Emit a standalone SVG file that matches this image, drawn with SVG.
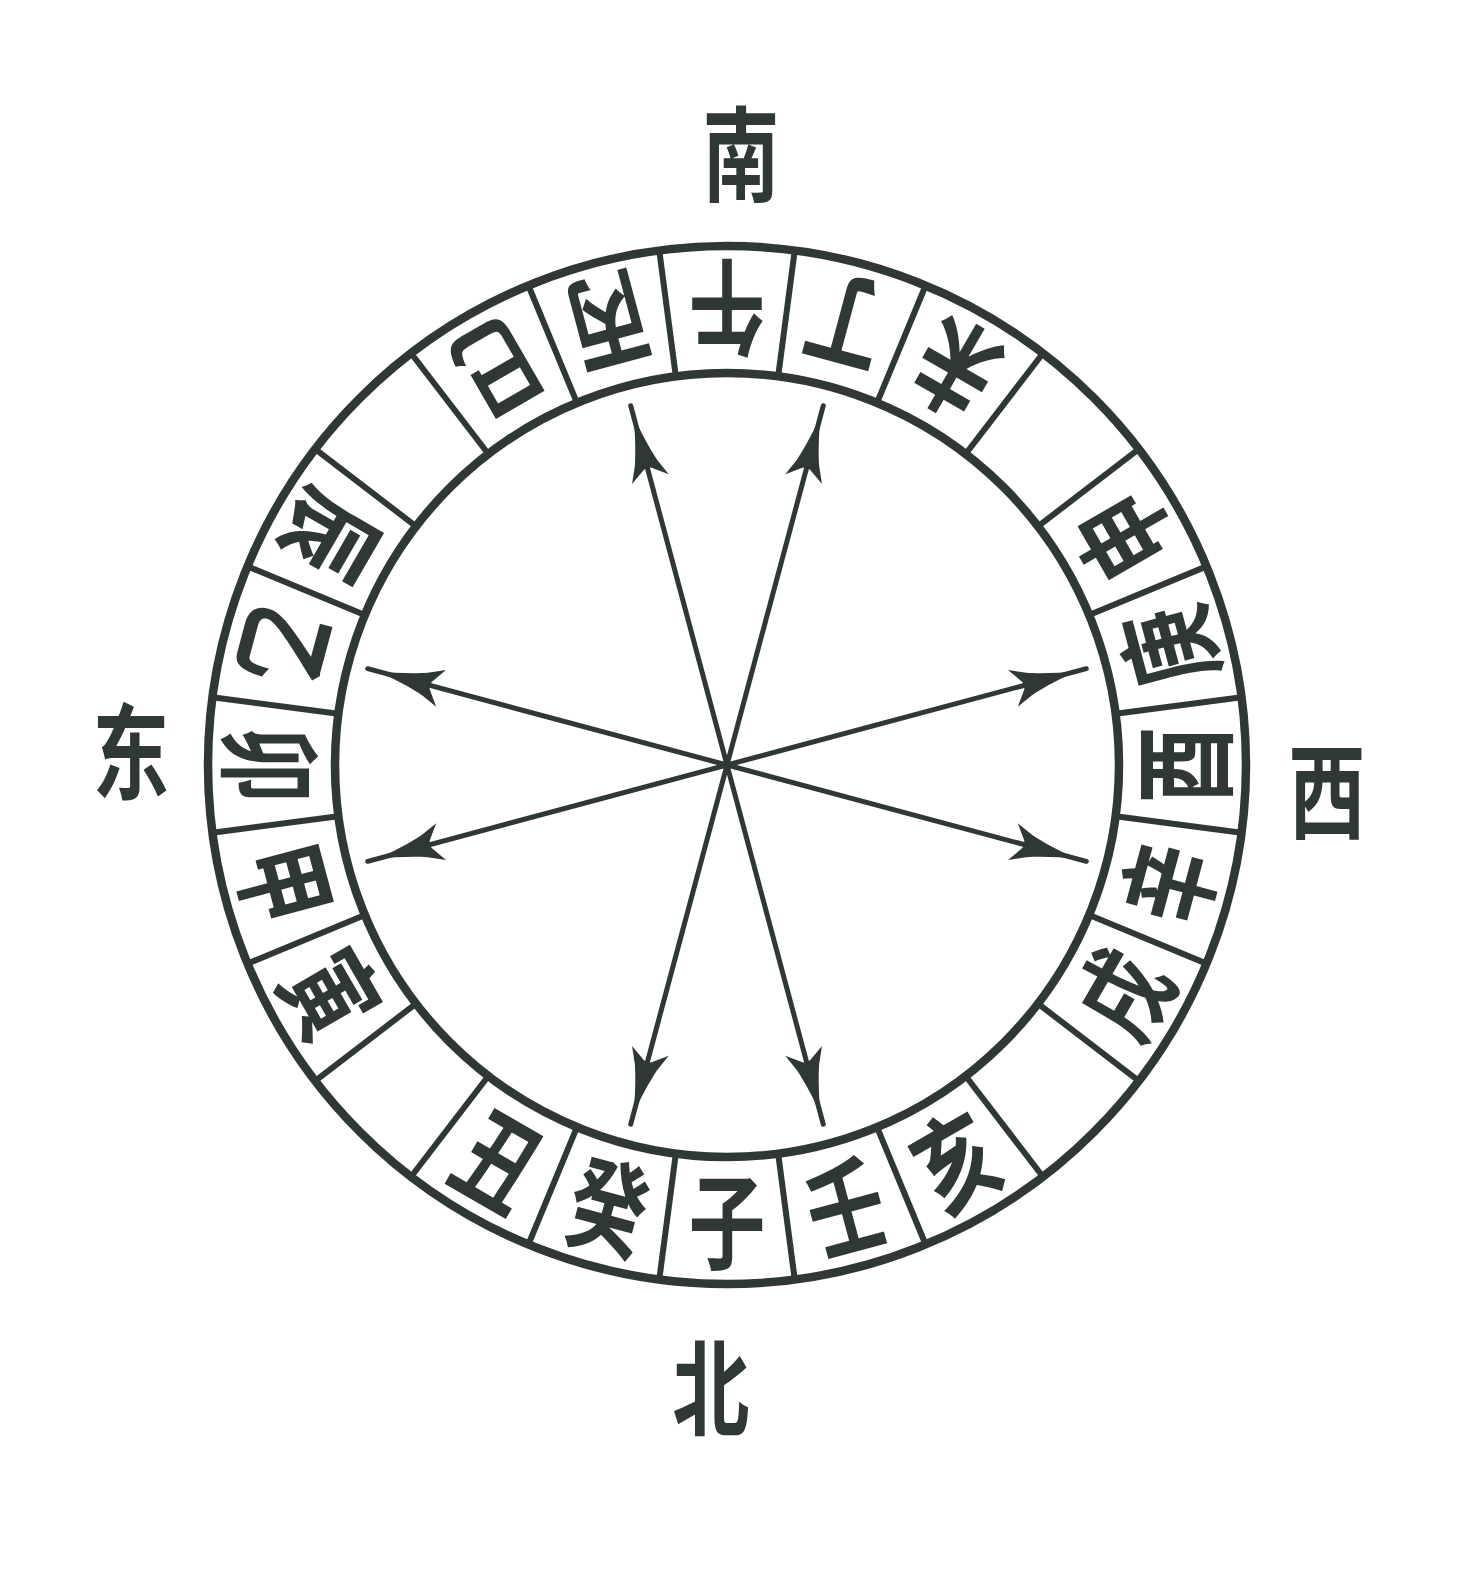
<svg xmlns="http://www.w3.org/2000/svg" xmlns:xlink="http://www.w3.org/1999/xlink" width="1473" height="1577" viewBox="0 0 1473 1577">
<style>
.ink{stroke:#2f3833;fill:none}
.ring{stroke-width:8.5}
.rad{stroke-width:6}
.conn{stroke:#2f3833;stroke-width:5;fill:none;stroke-linecap:round}
.ch{font-family:"Noto Sans CJK SC","Noto Sans CJK TC",sans-serif;font-weight:700;font-size:104px;fill:#2f3833;text-anchor:middle;dominant-baseline:central}
</style>
<defs>
<marker id="arr" viewBox="-70 -25 90 50" markerWidth="90" markerHeight="50" refX="14" refY="0" orient="auto-start-reverse" markerUnits="userSpaceOnUse">
<path d="M3,0 C-12,-2.5 -32,-7 -45,-11.5 L-62,-19 L-51,-3.5 L-51,3.5 L-62,19 L-45,11.5 C-32,7 -12,2.5 3,0 Z" fill="#2f3833"/>
</marker>
<line id="rl" x1="727" y1="1157" x2="727" y2="1284"/>
</defs>
<rect width="1473" height="1577" fill="#ffffff"/>
<g id="ring" class="ink">
<circle class="ring" cx="727" cy="765" r="519"/>
<circle class="ring" cx="727" cy="765" r="392"/>
<g class="rad">
<use xlink:href="#rl" transform="rotate(7.5 727 765)"/>
<use xlink:href="#rl" transform="rotate(22.5 727 765)"/>
<use xlink:href="#rl" transform="rotate(37.5 727 765)"/>
<use xlink:href="#rl" transform="rotate(52.5 727 765)"/>
<use xlink:href="#rl" transform="rotate(67.5 727 765)"/>
<use xlink:href="#rl" transform="rotate(82.5 727 765)"/>
<use xlink:href="#rl" transform="rotate(97.5 727 765)"/>
<use xlink:href="#rl" transform="rotate(112.5 727 765)"/>
<use xlink:href="#rl" transform="rotate(127.5 727 765)"/>
<use xlink:href="#rl" transform="rotate(142.5 727 765)"/>
<use xlink:href="#rl" transform="rotate(157.5 727 765)"/>
<use xlink:href="#rl" transform="rotate(172.5 727 765)"/>
<use xlink:href="#rl" transform="rotate(187.5 727 765)"/>
<use xlink:href="#rl" transform="rotate(202.5 727 765)"/>
<use xlink:href="#rl" transform="rotate(217.5 727 765)"/>
<use xlink:href="#rl" transform="rotate(232.5 727 765)"/>
<use xlink:href="#rl" transform="rotate(247.5 727 765)"/>
<use xlink:href="#rl" transform="rotate(262.5 727 765)"/>
<use xlink:href="#rl" transform="rotate(277.5 727 765)"/>
<use xlink:href="#rl" transform="rotate(292.5 727 765)"/>
<use xlink:href="#rl" transform="rotate(307.5 727 765)"/>
<use xlink:href="#rl" transform="rotate(322.5 727 765)"/>
<use xlink:href="#rl" transform="rotate(337.5 727 765)"/>
<use xlink:href="#rl" transform="rotate(352.5 727 765)"/>
</g>
</g>
<g id="seg-zi" transform="rotate(0 727 765)"><text class="ch" transform="translate(727 1217) scale(0.74 1)">子</text></g>
<g id="seg-gui" transform="rotate(15 727 765)"><text class="ch" transform="translate(727 1217) scale(0.74 1)">癸</text></g>
<g id="seg-chou" transform="rotate(30 727 765)"><text class="ch" transform="translate(727 1217) scale(0.74 1)">丑</text></g>
<g id="seg-yin" transform="rotate(60 727 765)"><text class="ch" transform="translate(727 1217) scale(0.74 1)">寅</text></g>
<g id="seg-jia" transform="rotate(75 727 765)"><text class="ch" transform="translate(727 1217) scale(0.74 1)">甲</text></g>
<g id="seg-mao" transform="rotate(90 727 765)"><text class="ch" transform="translate(727 1217) scale(0.74 1)">卯</text></g>
<g id="seg-yi" transform="rotate(105 727 765)"><text class="ch" transform="translate(727 1217) scale(0.74 1)">乙</text></g>
<g id="seg-chen" transform="rotate(120 727 765)"><text class="ch" transform="translate(727 1217) scale(0.74 1)">辰</text></g>
<g id="seg-si" transform="rotate(150 727 765)"><text class="ch" transform="translate(727 1217) scale(0.74 1)">巳</text></g>
<g id="seg-bing" transform="rotate(165 727 765)"><text class="ch" transform="translate(727 1217) scale(0.74 1)">丙</text></g>
<g id="seg-wu" transform="rotate(180 727 765)"><text class="ch" transform="translate(727 1217) scale(0.74 1)">午</text></g>
<g id="seg-ding" transform="rotate(195 727 765)"><text class="ch" transform="translate(727 1217) scale(0.74 1)">丁</text></g>
<g id="seg-wei" transform="rotate(210 727 765)"><text class="ch" transform="translate(727 1217) scale(0.74 1)">未</text></g>
<g id="seg-shen" transform="rotate(240 727 765)"><text class="ch" transform="translate(727 1217) scale(0.74 1)">申</text></g>
<g id="seg-geng" transform="rotate(255 727 765)"><text class="ch" transform="translate(727 1217) scale(0.74 1)">庚</text></g>
<g id="seg-you" transform="rotate(270 727 765)"><text class="ch" transform="translate(727 1217) scale(0.74 1)">酉</text></g>
<g id="seg-xin" transform="rotate(285 727 765)"><text class="ch" transform="translate(727 1217) scale(0.74 1)">辛</text></g>
<g id="seg-xu" transform="rotate(300 727 765)"><text class="ch" transform="translate(727 1217) scale(0.74 1)">戌</text></g>
<g id="seg-hai" transform="rotate(330 727 765)"><text class="ch" transform="translate(727 1217) scale(0.74 1)">亥</text></g>
<g id="seg-ren" transform="rotate(345 727 765)"><text class="ch" transform="translate(727 1217) scale(0.74 1)">壬</text></g>
<g id="dir-south"><text class="ch" transform="translate(741 149) scale(0.74 1)">南</text></g>
<g id="dir-north"><text class="ch" transform="translate(711 1383) scale(0.74 1)">北</text></g>
<g id="dir-east"><text class="ch" transform="translate(131 747) scale(0.74 1)">东</text></g>
<g id="dir-west"><text class="ch" transform="translate(1327 786) scale(0.74 1)">西</text></g>
<g id="connectors">
<line class="conn" x1="630.7" y1="405.7" x2="823.3" y2="1124.3" marker-start="url(#arr)" marker-end="url(#arr)"/>
<line class="conn" x1="823.3" y1="405.7" x2="630.7" y2="1124.3" marker-start="url(#arr)" marker-end="url(#arr)"/>
<line class="conn" x1="367.7" y1="668.7" x2="1086.3" y2="861.3" marker-start="url(#arr)" marker-end="url(#arr)"/>
<line class="conn" x1="367.7" y1="861.3" x2="1086.3" y2="668.7" marker-start="url(#arr)" marker-end="url(#arr)"/>
</g>
</svg>
